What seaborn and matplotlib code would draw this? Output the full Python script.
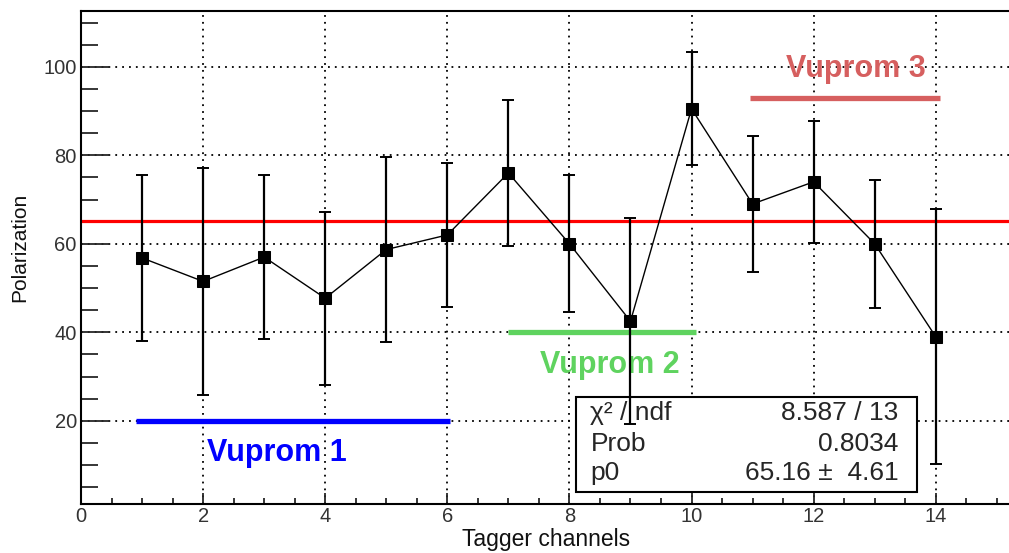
import numpy as np
import matplotlib
matplotlib.use("Agg")
import matplotlib.pyplot as plt
import seaborn as sns
from matplotlib.patches import Rectangle
from matplotlib.ticker import MultipleLocator

channels = [1, 2, 3, 4, 5, 6, 7, 8, 9, 10, 11, 12, 13, 14]
polarization = [56.8, 51.5, 57.0, 47.7, 58.7, 62.0, 76.0, 60.0, 42.5, 90.5, 69.0, 74.0, 60.0, 39.0]
pol_err = [18.8, 25.7, 18.6, 19.5, 21.0, 16.3, 16.5, 15.5, 23.3, 12.8, 15.3, 13.8, 14.5, 28.8]

fit_p0 = 65.16
stats_names = ["χ² / ndf", "Prob", "p0"]
stats_values = ["8.587 / 13", "0.8034", "65.16 ±  4.61"]

vuprom_names = ["Vuprom 1", "Vuprom 2", "Vuprom 3"]
vuprom_level = [20, 40, 93]
vuprom_start = [0.9, 7.0, 10.95]
vuprom_end = [6.05, 10.08, 14.07]
vuprom_colors = ["#0000ff", "#5fd35f", "#d65f5f"]
vuprom_text_x = [3.21, 8.66, 12.69]
vuprom_text_y = [12.8, 32.7, 99.5]

sns.set_style("white")
plt.rcParams["font.family"] = ["Liberation Sans", "DejaVu Sans"]

fig = plt.figure(figsize=(10.09, 5.53), dpi=100)
ax = fig.add_axes([0.0803, 0.0886, 0.9197, 0.8915])

# grid under everything
ax.set_axisbelow(True)
ax.grid(True, which="major", color="black", linestyle=(0, (1, 2.8)), linewidth=1.3)

# fit line
ax.axhline(fit_p0, color="#ff0000", linewidth=2.3, zorder=2)

# vuprom ranges
for name, lev, x0, x1, col, tx, ty in zip(vuprom_names, vuprom_level, vuprom_start,
                                          vuprom_end, vuprom_colors, vuprom_text_x, vuprom_text_y):
    ax.plot([x0, x1], [lev, lev], color=col, linewidth=3.8, solid_capstyle="butt", zorder=2)
    ax.text(tx, ty, name, color=col, fontsize=22, fontweight="bold",
            ha="center", va="center", zorder=2)

# stats box
box = Rectangle((0.533, 0.024), 0.368, 0.193, transform=ax.transAxes,
                facecolor="white", edgecolor="black", linewidth=1.5, zorder=2.5)
ax.add_patch(box)
row_y = [0.184, 0.122, 0.062]
for name, val, yy in zip(stats_names, stats_values, row_y):
    ax.text(0.549, yy, name, transform=ax.transAxes, fontsize=19,
            ha="left", va="center", zorder=5)
    ax.text(0.881, yy, val, transform=ax.transAxes, fontsize=19,
            ha="right", va="center", zorder=5)

# data
ax.errorbar(channels, polarization, yerr=pol_err, fmt="none", ecolor="black",
            elinewidth=1.6, capsize=4, capthick=1.4, zorder=3)
sns.lineplot(x=channels, y=polarization, ax=ax, color="black", linewidth=1.0,
             marker="s", markersize=8, markeredgecolor="black", zorder=4)

ax.set_xlim(0, 15.2)
ax.set_ylim(1.2, 112.6)
ax.xaxis.set_major_locator(MultipleLocator(2))
ax.xaxis.set_minor_locator(MultipleLocator(0.5))
ax.yaxis.set_major_locator(MultipleLocator(20))
ax.yaxis.set_minor_locator(MultipleLocator(5))
ax.set_yticks([20, 40, 60, 80, 100])

ax.tick_params(axis="x", which="major", direction="in", length=8, width=1.3,
               labelsize=14.5, labelcolor="#333333", pad=2, bottom=True)
ax.tick_params(axis="x", which="minor", direction="in", length=4.5, width=1.3, bottom=True)
ax.tick_params(axis="y", which="major", direction="in", length=21, width=1.3,
               labelsize=14.5, labelcolor="#333333", pad=3, left=True)
ax.tick_params(axis="y", which="minor", direction="in", length=12, width=1.3, left=True)

for side in ["left", "bottom", "top"]:
    ax.spines[side].set_visible(True)
    ax.spines[side].set_color("black")
    ax.spines[side].set_linewidth(1.5)
ax.spines["right"].set_visible(False)

ax.set_xlabel("Tagger channels", fontsize=16.5, color="#111111", labelpad=0)
ax.xaxis.set_label_coords(0.501, -0.049)
ax.set_ylabel("Polarization", fontsize=15, color="#111111")
ax.yaxis.set_label_coords(-0.056, 0.52)

fig.savefig("out.png", dpi=100)
plt.close()
